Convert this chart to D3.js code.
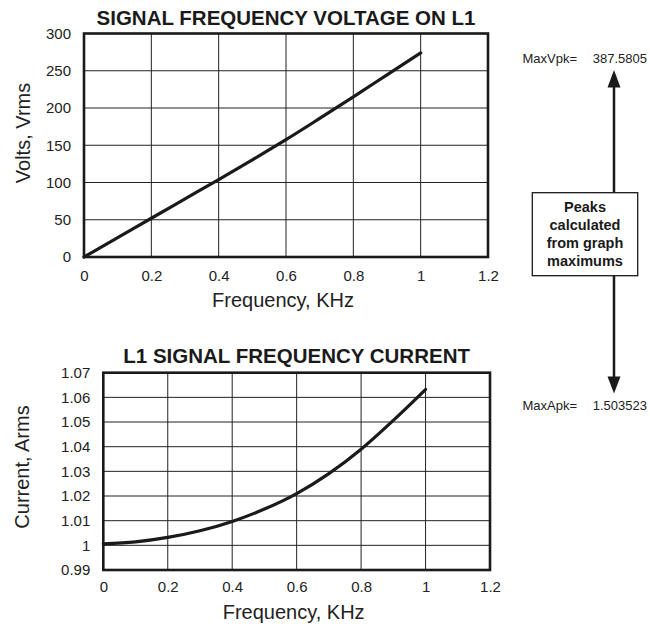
<!DOCTYPE html>
<html>
<head>
<meta charset="utf-8">
<script src="https://cdn.jsdelivr.net/npm/d3@7/dist/d3.min.js"></script>
<style>
    body { margin: 0; background: #fff; }
    svg { font-family: "Liberation Sans", Arial, sans-serif; }
</style>
</head>
<body>
<div id="chart"></div>
<script>
/* -----------------------------
   1. Data
------------------------------*/
const freqKHz  = [0, 0.1, 0.2, 0.3, 0.4, 0.5, 0.6, 0.7, 0.8, 0.9, 1.0];
const voltsRms = [0, 26, 52, 78, 104, 130.5, 157.5, 186, 215, 244.5, 274.06];
const ampsRms  = [1.0006, 1.0014, 1.0032, 1.0059, 1.0097, 1.0147, 1.0210, 1.0291, 1.0390, 1.0507, 1.0632];

const freqTicks = [0, 0.2, 0.4, 0.6, 0.8, 1, 1.2];
const voltTicks = [0, 50, 100, 150, 200, 250, 300];
const ampTicks  = [0.99, 1, 1.01, 1.02, 1.03, 1.04, 1.05, 1.06, 1.07];

const peakLabels = ["MaxVpk=", "MaxApk="];
const peakValues = ["387.5805", "1.503523"];
const noteLines  = ["Peaks", "calculated", "from graph", "maximums"];

/* -----------------------------
   2. SVG
------------------------------*/
const svg = d3.select('#chart').append('svg')
    .attr('width', 650)
    .attr('height', 626);

const fmt = d3.format('~g');

// one framed line chart with grid, tick labels and titles
function drawPanel(opt) {
    const { left, right, top, bottom } = opt.box;
    const x = d3.scaleLinear().domain([0, 1.2]).range([left, right]);
    const y = d3.scaleLinear().domain(opt.yDomain).range([bottom, top]);

    const g = svg.append('g');

    // grid
    g.append('g').selectAll('line')
        .data(freqTicks.slice(1, -1))
        .join('line')
        .attr('x1', d => x(d)).attr('x2', d => x(d))
        .attr('y1', top).attr('y2', bottom)
        .attr('stroke', '#222').attr('stroke-width', 1);

    g.append('g').selectAll('line')
        .data(opt.yTicks.slice(1, -1))
        .join('line')
        .attr('x1', left).attr('x2', right)
        .attr('y1', d => y(d)).attr('y2', d => y(d))
        .attr('stroke', '#222').attr('stroke-width', 1);

    // tick labels via axes (no lines)
    const xAxis = g.append('g')
        .attr('transform', `translate(0,${bottom})`)
        .call(d3.axisBottom(x).tickValues(freqTicks).tickFormat(fmt).tickSize(0).tickPadding(opt.xPad));
    const yAxis = g.append('g')
        .attr('transform', `translate(${left},0)`)
        .call(d3.axisLeft(y).tickValues(opt.yTicks).tickFormat(fmt).tickSize(0).tickPadding(13));
    [xAxis, yAxis].forEach(a => {
        a.select('.domain').remove();
        a.selectAll('text')
            .attr('font-family', '"Liberation Sans", Arial, sans-serif')
            .attr('font-size', 15)
            .attr('fill', '#222');
    });

    // data line
    const line = d3.line()
        .x((d, i) => x(freqKHz[i]))
        .y(d => y(d))
        .curve(d3.curveMonotoneX);

    g.append('path')
        .datum(opt.values)
        .attr('d', line)
        .attr('fill', 'none')
        .attr('stroke', '#1a1a1a')
        .attr('stroke-width', 3.2)
        .attr('stroke-linecap', 'round');

    // frame
    g.append('rect')
        .attr('x', left).attr('y', top)
        .attr('width', right - left).attr('height', bottom - top)
        .attr('fill', 'none')
        .attr('stroke', '#1a1a1a')
        .attr('stroke-width', 2.6);

    // titles
    g.append('text')
        .attr('x', (left + right) / 2).attr('y', opt.titleY)
        .attr('text-anchor', 'middle')
        .attr('font-size', 20.5).attr('font-weight', 'bold')
        .attr('fill', '#1a1a1a')
        .text(opt.title);

    g.append('text')
        .attr('x', (left + right) / 2 - 3).attr('y', opt.xTitleY)
        .attr('text-anchor', 'middle')
        .attr('font-size', 20).attr('fill', '#222')
        .text('Frequency, KHz');

    g.append('text')
        .attr('transform', `translate(${opt.yTitleX},${opt.yTitleY}) rotate(-90)`)
        .attr('text-anchor', 'middle')
        .attr('font-size', 20).attr('fill', '#222')
        .text(opt.yTitle);
}

/* -----------------------------
   3. Two panels
------------------------------*/
drawPanel({
    box: { left: 84, right: 488, top: 33.5, bottom: 257 },
    yDomain: [0, 300],
    yTicks: voltTicks,
    values: voltsRms,
    title: 'SIGNAL FREQUENCY VOLTAGE ON L1',
    titleY: 25,
    xPad: 13,
    xTitleY: 307,
    yTitle: 'Volts, Vrms',
    yTitleX: 30,
    yTitleY: 133
});

drawPanel({
    box: { left: 103.3, right: 490, top: 372.7, bottom: 570 },
    yDomain: [0.99, 1.07],
    yTicks: ampTicks,
    values: ampsRms,
    title: 'L1 SIGNAL FREQUENCY CURRENT',
    titleY: 363,
    xPad: 11.5,
    xTitleY: 619,
    yTitle: 'Current, Arms',
    yTitleX: 29,
    yTitleY: 467
});

/* -----------------------------
   4. Peak annotation
------------------------------*/
const ann = svg.append('g').attr('fill', '#222');
const arrowX = 614;
const noteBox = { x: 532.3, y: 192.7, w: 105.4, h: 83 };

// labels
[63, 410].forEach((yy, i) => {
    ann.append('text').attr('x', 522.5).attr('y', yy)
        .attr('font-size', 13).text(peakLabels[i]);
    ann.append('text').attr('x', 647).attr('y', yy)
        .attr('text-anchor', 'end')
        .attr('font-size', 13).text(peakValues[i]);
});

// shafts
ann.append('line')
    .attr('x1', arrowX).attr('x2', arrowX)
    .attr('y1', 86).attr('y2', noteBox.y)
    .attr('stroke', '#1a1a1a').attr('stroke-width', 2.5);
ann.append('line')
    .attr('x1', arrowX).attr('x2', arrowX)
    .attr('y1', noteBox.y + noteBox.h).attr('y2', 378)
    .attr('stroke', '#1a1a1a').attr('stroke-width', 2.5);

// heads
ann.append('path')
    .attr('d', `M${arrowX},70 L${arrowX - 6.5},87.5 L${arrowX + 6.5},87.5 Z`)
    .attr('fill', '#1a1a1a');
ann.append('path')
    .attr('d', `M${arrowX},393.5 L${arrowX - 6.5},376.5 L${arrowX + 6.5},376.5 Z`)
    .attr('fill', '#1a1a1a');

// note box
ann.append('rect')
    .attr('x', noteBox.x).attr('y', noteBox.y)
    .attr('width', noteBox.w).attr('height', noteBox.h)
    .attr('fill', '#fff')
    .attr('stroke', '#1a1a1a').attr('stroke-width', 1.3);

ann.selectAll('text.note')
    .data(noteLines)
    .join('text')
    .attr('class', 'note')
    .attr('x', noteBox.x + noteBox.w / 2)
    .attr('y', (d, i) => 212 + i * 18)
    .attr('text-anchor', 'middle')
    .attr('font-size', 14.5)
    .attr('font-weight', 'bold')
    .attr('fill', '#1a1a1a')
    .text(d => d);
</script>
</body>
</html>
